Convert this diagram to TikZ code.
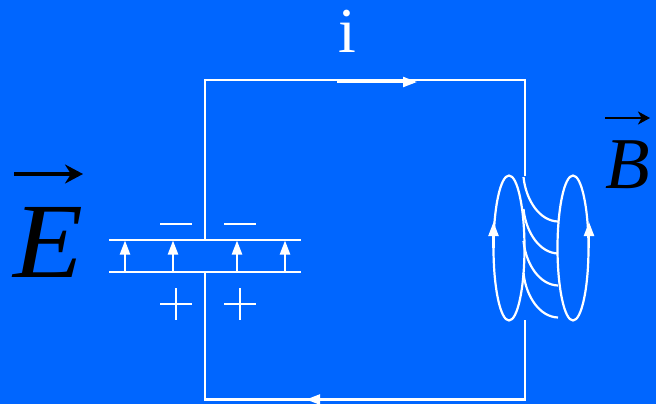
\documentclass[tikz,border=0pt]{standalone}
\usepackage{fontspec}
\setmainfont{Liberation Serif}
\usetikzlibrary{arrows.meta}
\definecolor{bgblue}{HTML}{0066FF}
\tikzset{
  x=1pt,y=-1pt,
  wire/.style={draw=white,line width=2.2pt},
  flow/.style={draw=white,line width=2.2pt,-{Triangle[width=10pt,length=14pt,fill=white]}},
  vect/.style={draw=black,line width=3.4pt,-{Stealth[width=19pt,length=18pt,inset=6pt]}},
  lab/.style={inner sep=0pt,anchor=base},
}
\begin{document}
\begin{tikzpicture}
\useasboundingbox (0,0) rectangle (656,404);
\fill[bgblue] (0,0) rectangle (656,404);
\coordinate (capT) at (205,240);
\coordinate (capB) at (205,272);
\coordinate (tl) at (205,80);
\coordinate (tr) at (525,80);
\coordinate (br) at (525,399.5);
\coordinate (bl) at (205,399.5);
\coordinate (coilT) at (525,176);
\coordinate (coilB) at (525,320);
\draw[wire,line join=miter] (capT) -- (tl) -- (tr) -- (coilT);
\draw[wire,line join=miter] (capB) -- (bl) -- (br) -- (coilB);
\coordinate (p1l) at (109,240); \coordinate (p1r) at (301,240);
\coordinate (p2l) at (109,272); \coordinate (p2r) at (301,272);
\draw[wire] (p1l) -- (p1r);
\draw[wire] (p2l) -- (p2r);
\foreach \x in {125,173,237,285}{
  \coordinate (fb\x) at (\x,272);
  \coordinate (ft\x) at (\x,240.5);
  \draw[flow] (fb\x) -- (ft\x);
}
\foreach \x in {176,240}{
  \coordinate (mL\x) at (\x-16,224); \coordinate (mR\x) at (\x+16,224);
  \draw[wire] (mL\x) -- (mR\x);
  \coordinate (pL\x) at (\x-16,304); \coordinate (pR\x) at (\x+16,304);
  \coordinate (pT\x) at (\x,288); \coordinate (pB\x) at (\x,320);
  \draw[wire] (pL\x) -- (pR\x);
  \draw[wire] (pT\x) -- (pB\x);
}
\coordinate (i1) at (337,82); \coordinate (i2) at (417,82);
\draw[flow] (i1) -- (i2);
\coordinate (i3) at (320,399.5); \coordinate (i4) at (306,399.5);
\draw[flow] (i3) -- (i4);
\draw[wire] (509,248) ellipse [x radius=15.5,y radius=72.5];
\draw[wire] (573,248) ellipse [x radius=15.5,y radius=72.5];
\coordinate (a1) at (493.5,248); \coordinate (a1t) at (493.5,222);
\coordinate (a2) at (589,248); \coordinate (a2t) at (589,222);
\draw[flow] (a1) -- (a1t);
\draw[flow] (a2) -- (a2t);
\foreach \i/\y in {1/177,2/209,3/241,4/273}{
  \coordinate (cs\i) at (523.5,\y);
  \coordinate (ce\i) at (558,\y+44.5);
  \draw[wire] (cs\i) .. controls (526,\y+24) and (540,\y+44) .. (ce\i);
}
\node[lab,text=white,font=\fontsize{64pt}{64pt}\selectfont] (ilab) at (347,53) {i};
\node[lab,xscale=1.07,font=\fontsize{107pt}{107pt}\itshape\selectfont] (Elab) at (48.5,277) {E};
\node[lab,font=\fontsize{73pt}{73pt}\itshape\selectfont] (Blab) at (628,188.5) {B};
\coordinate (e1) at (14,174); \coordinate (e2) at (83,174);
\draw[vect] (e1) -- (e2);
\coordinate (b1) at (605,118); \coordinate (b2) at (650,118);
\draw[vect,line width=2.5pt,-{Stealth[width=13pt,length=12pt,inset=3.5pt]}] (b1) -- (b2);
\end{tikzpicture}
\end{document}
